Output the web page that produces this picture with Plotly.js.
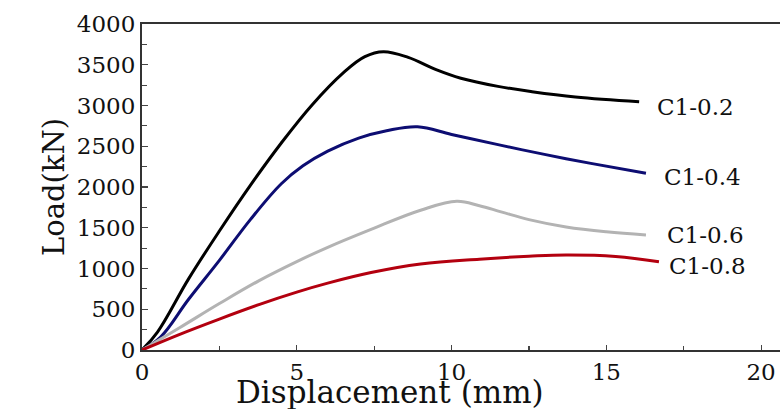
<!DOCTYPE html>
<html>
<head>
<meta charset="utf-8">
<script src="https://cdn.plot.ly/plotly-3.0.1.min.js"></script>
<style>
html,body{margin:0;padding:0;background:#fff;}
#chart{width:780px;height:409px;}
</style>
</head>
<body>
<div id="chart"></div>
<script>
// Data
const seriesNames = ["C1-0.2", "C1-0.4", "C1-0.6", "C1-0.8"];

const x02 = [0, 0.5, 1.5, 2.5, 3.5, 4.5, 5.5, 6.5, 7.2, 7.8, 8.6, 9.5, 10.3, 11.5, 12.6, 14.0, 16.06];
const y02 = [0, 220, 870, 1460, 2020, 2540, 3010, 3400, 3600, 3660, 3590, 3440, 3335, 3235, 3170, 3105, 3047];

const x04 = [0, 0.6, 1.5, 2.5, 3.5, 4.5, 5.2, 6.0, 7.0, 7.9, 8.9, 10.0, 11.5, 13.0, 14.5, 16.28];
const y04 = [0, 160, 620, 1100, 1600, 2040, 2260, 2440, 2600, 2690, 2740, 2645, 2520, 2400, 2290, 2168];

const x06 = [0, 1.2, 2.5, 3.8, 5.0, 6.0, 7.4, 9.0, 10.17, 10.9, 11.6, 12.5, 13.7, 15.0, 16.28];
const y06 = [0, 270, 570, 855, 1085, 1260, 1480, 1715, 1825, 1770, 1695, 1600, 1510, 1450, 1411];

const x08 = [0, 1.2, 2.5, 3.8, 5.0, 6.0, 7.4, 9.0, 10.9, 12.5, 13.7, 15.3, 16.7];
const y08 = [0, 190, 380, 560, 710, 820, 950, 1055, 1115, 1150, 1166, 1148, 1083];

const xTickVals = [0, 5, 10, 15, 20];
const yTickVals = [0, 500, 1000, 1500, 2000, 2500, 3000, 3500, 4000];

// label anchor points (data coords)
const labelX = [16.57, 16.8, 16.9, 16.96];
const labelY = [2982, 2123, 1411, 1031];

const colors = ["#000000", "#0d0d72", "#b3b3b3", "#b3000f"];
const xs = [x02, x04, x06, x08];
const ys = [y02, y04, y06, y08];

const FONT = "DejaVu Serif, Liberation Serif, serif";

const traces = seriesNames.map((n, i) => ({
  x: xs[i], y: ys[i], name: n, type: "scatter", mode: "lines",
  line: {color: colors[i], width: 3, shape: "spline", smoothing: 1.1},
  hoverinfo: "skip"
}));

const annotations = seriesNames.map((n, i) => ({
  x: labelX[i], y: labelY[i], xref: "x", yref: "y",
  text: n, showarrow: false, xanchor: "left", yanchor: "middle",
  font: {family: FONT, size: 23, color: "#111"}
}));
annotations.push({
  x: 8, y: -0.13, xref: "x", yref: "paper", text: "Displacement (mm)",
  showarrow: false, xanchor: "center", yanchor: "middle",
  font: {family: FONT, size: 31, color: "#111"}
});

const layout = {
  width: 780, height: 409,
  margin: {l: 142, r: 0, t: 24, b: 59},
  paper_bgcolor: "#fff", plot_bgcolor: "#fff",
  showlegend: false,
  font: {family: FONT, color: "#111"},
  xaxis: {
    range: [0, 20.61], tickvals: xTickVals, ticktext: xTickVals.map(String),
    ticks: "inside", ticklen: 5, tickwidth: 1.2, tickcolor: "#444",
    minor: {dtick: 2.5, ticks: "inside", ticklen: 4, tickwidth: 1.2, tickcolor: "#444", tick0: 0},
    showline: true, linecolor: "#333", linewidth: 2, mirror: true,
    showgrid: false, zeroline: false,
    tickfont: {family: FONT, size: 23, color: "#111"}
  },
  yaxis: {
    range: [0, 4000], tickvals: yTickVals, ticktext: yTickVals.map(String),
    ticks: "inside", ticklen: 6, tickwidth: 1.2, tickcolor: "#444",
    minor: {dtick: 250, ticks: "inside", ticklen: 5, tickwidth: 1.2, tickcolor: "#444", tick0: 0},
    showline: true, linecolor: "#333", linewidth: 2,
    showgrid: false, zeroline: false,
    tickfont: {family: FONT, size: 23, color: "#111"},
    title: {text: "Load(kN)", font: {family: FONT, size: 29, color: "#111"}, standoff: 4}
  },
  annotations: annotations
};

Plotly.newPlot("chart", traces, layout, {staticPlot: true, displayModeBar: false});
</script>
</body>
</html>
